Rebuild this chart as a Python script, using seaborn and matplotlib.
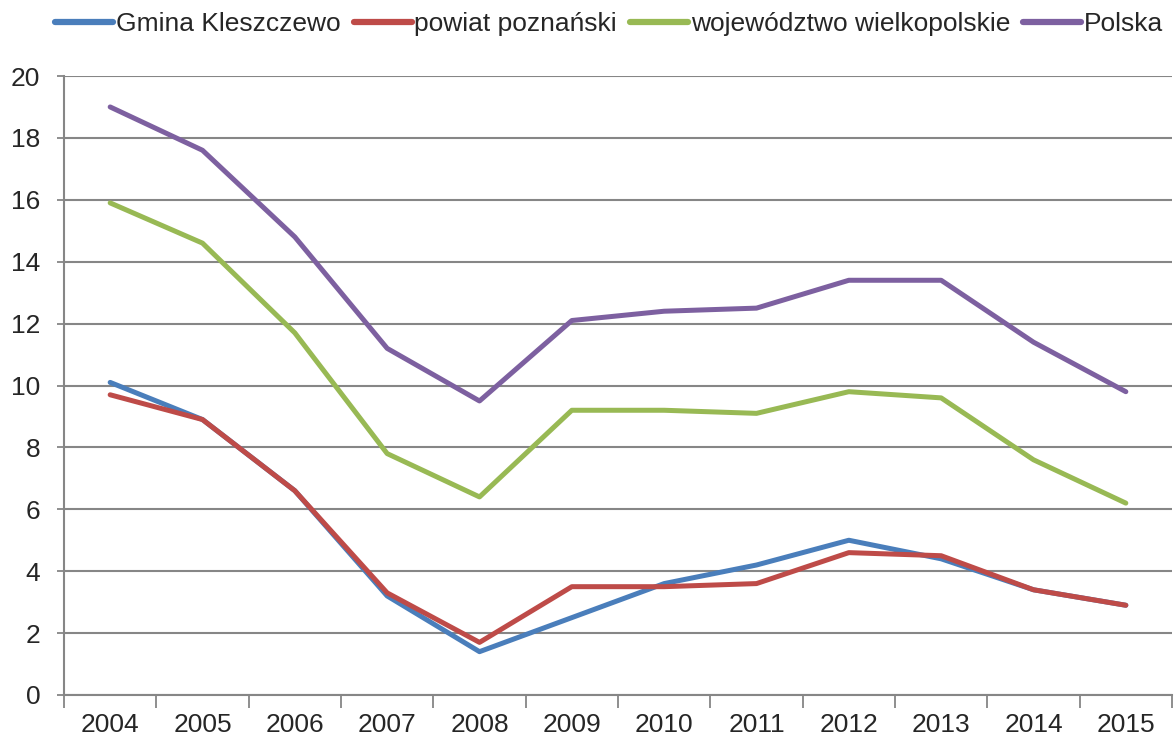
import matplotlib
matplotlib.use("Agg")
import matplotlib.pyplot as plt
import numpy as np
import pandas as pd
import seaborn as sns

years = list(range(2004, 2016))
gmina_kleszczewo = [10.1, 8.9, 6.6, 3.2, 1.4, 2.5, 3.6, 4.2, 5.0, 4.4, 3.4, 2.9]
powiat_poznanski = [9.7, 8.9, 6.6, 3.3, 1.7, 3.5, 3.5, 3.6, 4.6, 4.5, 3.4, 2.9]
wojewodztwo = [15.9, 14.6, 11.7, 7.8, 6.4, 9.2, 9.2, 9.1, 9.8, 9.6, 7.6, 6.2]
polska = [19.0, 17.6, 14.8, 11.2, 9.5, 12.1, 12.4, 12.5, 13.4, 13.4, 11.4, 9.8]

series_names = ["Gmina Kleszczewo", "powiat poznański", "województwo wielkopolskie", "Polska"]
palette = ["#4A7EBB", "#BE4B48", "#98B954", "#7D60A0"]

frames = []
for name, vals in zip(series_names, [gmina_kleszczewo, powiat_poznanski, wojewodztwo, polska]):
    frames.append(pd.DataFrame({"rok": years, "wartosc": vals, "seria": name}))
df = pd.concat(frames, ignore_index=True)

sns.set_style("white")
plt.rcParams["font.family"] = ["Liberation Sans", "DejaVu Sans"]

fig = plt.figure(figsize=(11.76, 7.38), dpi=100)
ax = fig.add_axes([64 / 1176, 1 - 695 / 738, 1108 / 1176, 619 / 738])

sns.lineplot(data=df, x="rok", y="wartosc", hue="seria", hue_order=series_names,
             palette=palette, linewidth=3.6, ax=ax, legend=False)

grid_color = "#868686"
ax.set_xlim(2003.5, 2015.5)
ax.set_ylim(0, 20)
ax.set_yticks(np.arange(0, 21, 2))
ax.yaxis.grid(True, color=grid_color, linewidth=1.5)
ax.set_axisbelow(True)
ax.set_xticks(years)
ax.set_xticks(np.arange(2003.5, 2016, 1.0), minor=True)
ax.tick_params(axis="x", which="major", length=0, pad=13, labelsize=19)
ax.tick_params(axis="x", which="minor", length=9, width=1.3, color=grid_color, direction="out")
ax.tick_params(axis="y", length=5, width=1.3, color=grid_color, direction="out", labelsize=19, pad=12)
ax.tick_params(bottom=True, left=True, which="both")
ax.set_xlabel("")
ax.set_ylabel("")
for side in ["top", "right"]:
    ax.spines[side].set_visible(False)
for side in ["left", "bottom"]:
    ax.spines[side].set_color(grid_color)
    ax.spines[side].set_linewidth(1.5)

handles = [plt.Line2D([], [], color=c, linewidth=4.5, solid_capstyle="round") for c in palette]
fig.legend(handles, series_names, loc="center", bbox_to_anchor=(0.518, 1 - 24 / 738), ncol=4,
           frameon=False, fontsize=19, handlelength=2.2, handletextpad=0.1, columnspacing=0.5)

fig.savefig("out.png", dpi=100)
